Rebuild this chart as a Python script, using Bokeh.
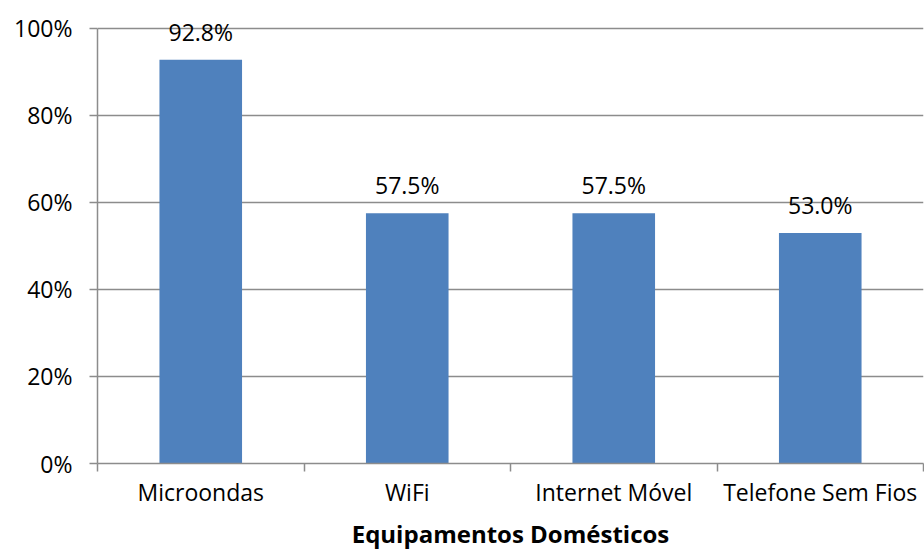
from bokeh.plotting import figure
from bokeh.models import FixedTicker, ColumnDataSource, Range1d
from bokeh.embed import file_html
from bokeh.resources import INLINE
from bokeh.core.properties import value

# Household equipment ownership (%)
categories = ["Microondas", "WiFi", "Internet Móvel", "Telefone Sem Fios"]
shares = [92.8, 57.5, 57.5, 53.0]
y_ticks = [0, 20, 40, 60, 80, 100]
y_tick_labels = ["0%", "20%", "40%", "60%", "80%", "100%"]
x_title = "Equipamentos Domésticos"

FONT = "Open Sans"
FS = "23px"
GRID = "#8c8c8c"
BAR = "#4F81BD"

centers = [i + 0.5 for i in range(len(categories))]
src = ColumnDataSource(dict(
    x=centers,
    top=shares,
    label=[f"{v:.1f}%" for v in shares],
))

# a little headroom above 100% so the tallest value label is not clipped
p = figure(
    width=924, height=552,
    x_range=Range1d(0, len(categories)), y_range=Range1d(0, 104.587),
    output_backend="svg", toolbar_location=None,
    min_border_left=97, min_border_right=1, min_border_top=8, min_border_bottom=88,
)
p.outline_line_color = None
p.background_fill_color = "white"
p.border_fill_color = "white"

p.vbar(x="x", top="top", width=0.4, bottom=0, source=src,
       fill_color=BAR, line_color=None)
p.text(x="x", y="top", text="label", source=src,
       text_align="center", text_baseline="alphabetic", y_offset=-28,
       text_font=value(FONT), text_font_size=FS, text_color="#000000")

# x axis: ticks at category boundaries, labels at category centers
xa = p.xaxis[0]
xa.ticker = FixedTicker(ticks=centers, minor_ticks=list(range(len(categories) + 1)))
xa.major_label_overrides = {c: name for c, name in zip(centers, categories)}
xa.major_tick_out = 0
xa.major_tick_in = 0
xa.minor_tick_out = 8
xa.minor_tick_in = 0
xa.minor_tick_line_color = GRID
xa.minor_tick_line_width = 1.5
xa.axis_line_color = GRID
xa.axis_line_width = 1.5
xa.major_label_standoff = 4
xa.major_label_text_font = FONT
xa.major_label_text_font_size = FS
xa.major_label_text_color = "#000000"
xa.axis_label = x_title
xa.axis_label_text_font = FONT
xa.axis_label_text_font_size = "24px"
xa.axis_label_text_font_style = "bold"
xa.axis_label_text_color = "#000000"
xa.axis_label_standoff = 6

ya = p.yaxis[0]
ya.bounds = (0, 100)
ya.ticker = FixedTicker(ticks=y_ticks, minor_ticks=[])
ya.major_label_overrides = {t: l for t, l in zip(y_ticks, y_tick_labels)}
ya.major_tick_out = 8
ya.major_tick_in = 0
ya.major_tick_line_color = GRID
ya.major_tick_line_width = 1.5
ya.axis_line_color = GRID
ya.axis_line_width = 1.5
ya.major_label_standoff = 17
ya.major_label_text_font = FONT
ya.major_label_text_font_size = FS
ya.major_label_text_color = "#000000"

p.xgrid.grid_line_color = None
p.ygrid.ticker = FixedTicker(ticks=y_ticks[1:])
p.ygrid.grid_line_color = GRID
p.ygrid.grid_line_width = 1.5

open("out.html", "w").write(file_html(p, INLINE))
